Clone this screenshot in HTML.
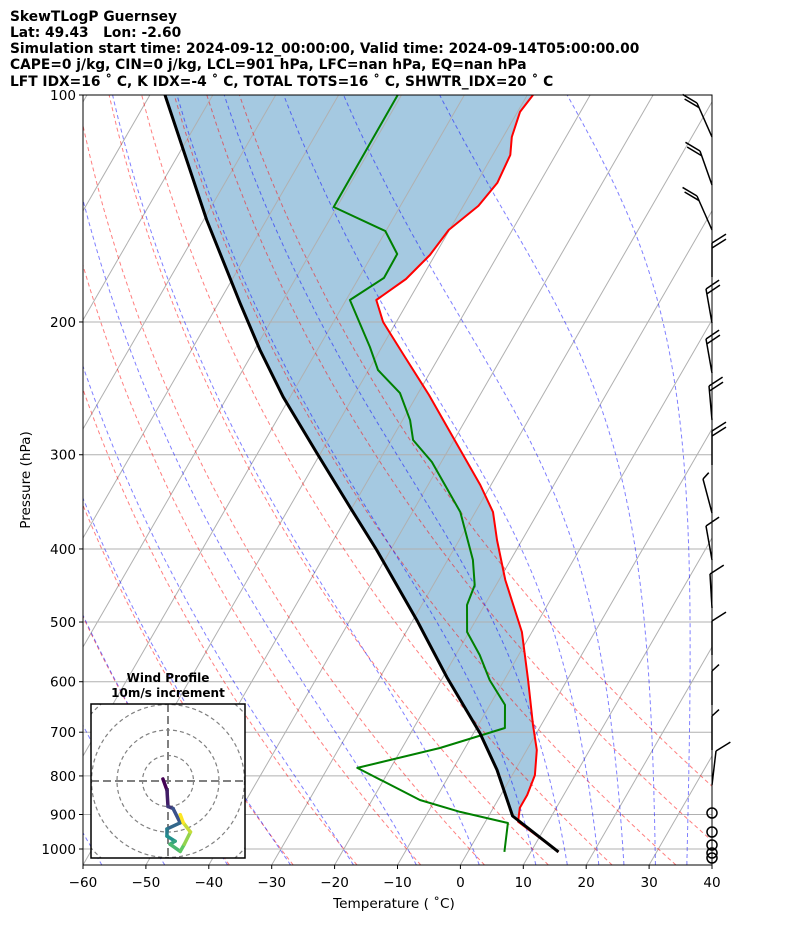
<!DOCTYPE html>
<html><head><meta charset="utf-8"><style>
body{margin:0;background:#fff}
svg{display:block;font-family:"DejaVu Sans","Liberation Sans",sans-serif}
</style></head><body>
<svg id="chart" width="794" height="937" viewBox="0 0 794 937" xmlns="http://www.w3.org/2000/svg">
<g font-weight="bold" font-size="13.8" fill="#000" xml:space="preserve">
<text x="10" y="21">SkewTLogP Guernsey</text>
<text x="10" y="37" xml:space="preserve">Lat: 49.43   Lon: -2.60</text>
<text x="10" y="53">Simulation start time: 2024-09-12_00:00:00, Valid time: 2024-09-14T05:00:00.00</text>
<text x="10" y="69">CAPE=0 j/kg, CIN=0 j/kg, LCL=901 hPa, LFC=nan hPa, EQ=nan hPa</text>
<text x="10" y="86" xml:space="preserve">LFT IDX=16 ˚ C, K IDX=-4 ˚ C, TOTAL TOTS=16 ˚ C, SHWTR_IDX=20 ˚ C</text>
</g>
<defs><clipPath id="pc"><rect x="83" y="95" width="629" height="770"/></clipPath></defs>
<g id="plot" clip-path="url(#pc)"></g>
<g id="axes"></g>
<g id="barbs"></g>
<g id="hodo"></g>
</svg>
<script>
// ---- data ----
const tempP = [1009,920,882,848,798,739,684.7,597,515.5,439.8,389.2,357.3,329,286.8,250,221.2,200,187,175.4,163,151,140.3,130.8,120.1,113.7,105.3,100];
const tempT = [14.4,5.2,4.2,4.2,3.6,1.6,-1.3,-6.2,-11.6,-19.0,-24.0,-27.2,-31.7,-39.9,-48.1,-55.8,-62.1,-65.2,-62.4,-60.8,-60.1,-57.6,-56.7,-57.2,-58.6,-59.6,-59.1];
const dewP = [1009,923.6,893,861,780.7,734.5,691,644,597,553,515.5,474.7,446.7,413.6,357.3,306.7,286.8,270,248.5,231.6,215.9,187,174.8,162.5,151.5,140.8,100];
const dewT = [5.8,3.7,-4.9,-12.4,-25.3,-14.0,-5.5,-7.6,-12.3,-16.2,-20.3,-22.8,-23.4,-26.0,-32.4,-41.5,-46.5,-48.8,-52.9,-58.5,-61.9,-69.4,-66.0,-66.1,-70.1,-80.5,-80.6];
const parcelP = [1009,904,785.5,701.8,591.5,497,401.3,351.9,298.5,251.5,217.9,188.7,146.5,100];
const parcelT = [14.4,3.8,-2.9,-9.0,-19.4,-29.4,-42.2,-50.4,-60.6,-71.1,-79.1,-86.6,-99.5,-117.6];
const dryTheta = [-40,-30,-20,-10,0,10,20,30,40,50];
const moistStart = [-77,-67,-57,-47,-37,-27,-17,-7,3,12,17,22,26,31,36];
const xTicks = [-60,-50,-40,-30,-20,-10,0,10,20,30,40];
const pTicks = [100,200,300,400,500,600,700,800,900,1000];
const barbY = [137,185,230,277,323,373,420,465,513,560,608,655,705,750,785];
const barbDX = [-15,-12,-15,0,-6,-6,-3,0,-9,-6,-2,0,0,0,4];
const barbN = [2,2,2,2,2,2,2,2,0.5,1,1,1,0.5,0.5,1];
const barbSide = [-1,-1,-1,1,1,1,1,1,1,1,1,1,1,1,1];
const calmY = [813,832,845,853,858];
const hodoU = [-2,-0.4,0,2,4.8,-0.4,-0.4,2.8,0.8,4.8,6.4,8.8,6,4.8];
const hodoV = [0.8,-3.6,-10,-10.8,-16.4,-18.8,-21.6,-23.6,-24.8,-27.6,-24.8,-20,-16.4,-13.2];

// ---- axes functions ----
const X0=83,X1=712,Y0=95,Y1=865,PX=6.29,SK=0.577;
function Y(p){return Y0+754*Math.log10(p/100);}
function X(T,p){return X0+(T+60)*PX+(Y1-Y(p))*SK;}
const NS="http://www.w3.org/2000/svg";
function mk(tag,attrs,parent){const e=document.createElementNS(NS,tag);for(const k in attrs)e.setAttribute(k,attrs[k]);parent.appendChild(e);return e;}
const plot=document.getElementById('plot'),axes=document.getElementById('axes');
function pathFrom(P,T){return P.map((p,i)=>(i?'L':'M')+X(T[i],p).toFixed(1)+' '+Y(p).toFixed(1)).join(' ');}

// shading between parcel and temperature
{
  let d='M'+X(parcelT[1],parcelP[1]).toFixed(1)+' '+Y(parcelP[1]).toFixed(1);
  for(let i=2;i<parcelP.length;i++) d+=' L'+X(parcelT[i],parcelP[i]).toFixed(1)+' '+Y(parcelP[i]).toFixed(1);
  for(let i=tempP.length-1;i>=1;i--) d+=' L'+X(tempT[i],tempP[i]).toFixed(1)+' '+Y(tempP[i]).toFixed(1);
  d+=' Z';
  const f=mk('path',{d:d,fill:'rgba(31,119,180,0.4)',stroke:'none'},plot);
  
  
}
// isobars
for(const p of pTicks){const l=mk('line',{x1:X0,x2:X1,y1:Y(p),y2:Y(p),stroke:'#b0b0b0','stroke-width':1},plot);

}
// isotherms
for(let t=-140;t<=40;t+=10){const l=mk('line',{x1:X(t,1050),y1:Y(1050),x2:X(t,100),y2:Y(100),stroke:'#b0b0b0','stroke-width':1},plot);

}
// dry adiabats
for(const th of dryTheta){
  let d='';for(let p=1050;p>=100;p-=10){const T=(th+273.15)*Math.pow(p/1000,0.2857)-273.15;d+=(d?'L':'M')+X(T,p).toFixed(1)+' '+Y(p).toFixed(1);}
  const l=mk('path',{d:d,fill:'none',stroke:'rgba(255,0,0,0.5)','stroke-width':1,'stroke-dasharray':'4,3'},plot);
  
  
}
// moist adiabats
function dTdp(T,p){const Tc=T-273.15;const es=6.112*Math.exp(17.67*Tc/(Tc+243.5));const rs=0.622*es/(p-es);
  return (287.04*T+2.501e6*rs)/(p*(1005.7+2.501e6*2.501e6*rs*0.622/(287.04*T*T)));}
for(const t0 of moistStart){
  let T=t0+273.15;const pts=[];
  for(let p=1050;p>100;p-=2){pts.push([p,T]);T-=dTdp(T,p-1)*2;}
  pts.push([100,T]);
  const d=pts.map((a,i)=>(i?'L':'M')+X(a[1]-273.15,a[0]).toFixed(1)+' '+Y(a[0]).toFixed(1)).join(' ');
  const l=mk('path',{d:d,fill:'none',stroke:'rgba(0,0,255,0.5)','stroke-width':1,'stroke-dasharray':'4,3'},plot);
  
  
}
// profiles
{
  const tl=mk('path',{d:pathFrom(tempP,tempT),fill:'none',stroke:'#ff0000','stroke-width':2,'stroke-linejoin':'round'},plot);
  
  
  const dl=mk('path',{d:pathFrom(dewP,dewT),fill:'none',stroke:'#008000','stroke-width':2,'stroke-linejoin':'round'},plot);
  
  
  const pl=mk('path',{d:pathFrom(parcelP,parcelT),fill:'none',stroke:'#000','stroke-width':3,'stroke-linejoin':'round'},plot);
  
  
}
// frame & ticks
{
  const fr=mk('rect',{x:X0,y:Y0,width:X1-X0,height:Y1-Y0,fill:'none',stroke:'#000','stroke-width':1},axes);
  
  
  for(const p of pTicks){
    mk('line',{x1:X0-4,x2:X0,y1:Y(p),y2:Y(p),stroke:'#000'},axes);
    const t=mk('text',{x:X0-7,y:Y(p)+5,'text-anchor':'end','font-size':13.6},axes);t.textContent=p;
    
    
  }
  for(const v of xTicks){
    const x=X0+(v+60)*PX;
    mk('line',{x1:x,x2:x,y1:Y1,y2:Y1+4,stroke:'#000'},axes);
    const t=mk('text',{x:x,y:Y1+22,'text-anchor':'middle','font-size':13.6},axes);t.textContent=(v<0?'\u2212'+(-v):v);
    
    
  }
  const xt=mk('text',{x:394,y:908,'text-anchor':'middle','font-size':13.6},axes);xt.textContent='Temperature ( \u02daC)';
  
  
  const yt=mk('text',{x:30,y:480,'text-anchor':'middle','font-size':13.6,transform:'rotate(-90 30 480)'},axes);yt.textContent='Pressure (hPa)';
  
  
}
// wind barbs
{
  const g=document.getElementById('barbs');
  barbY.forEach((y,i)=>{
    const tx=X1+barbDX[i], ty=y-34;
    const bg=mk('g',{stroke:'#000','stroke-width':1.5,fill:'none'},g);
    
    
    mk('line',{x1:X1,y1:y,x2:tx,y2:ty},bg);
    const L=Math.hypot(tx-X1,ty-y),ux=(tx-X1)/L,uy=(ty-y)/L;
    const s=barbSide[i];
    const nx= s>0? Math.abs(uy):-Math.abs(uy);
    let n=barbN[i],k=0;
    while(n>0){
      const len=n>=1?14:7;
      const bx=tx-ux*k*5, by=ty-uy*k*5;
      mk('line',{x1:bx,y1:by,x2:bx+nx*len+ux*4,y2:by-len*0.35+uy*4},bg);
      n-=1;k++;
    }
  });
  calmY.forEach(y=>{const c=mk('circle',{cx:X1,cy:y,r:5,fill:'none',stroke:'#000','stroke-width':1.5},g);
    
    });
}
// hodograph
{
  const g=document.getElementById('hodo');
  const cx=168,cy=781,sc=2.55;
  const t1=mk('text',{x:cx,y:682,'text-anchor':'middle','font-size':12,'font-weight':'bold'},g);t1.textContent='Wind Profile';
  
  
  const t2=mk('text',{x:cx,y:697,'text-anchor':'middle','font-size':12,'font-weight':'bold'},g);t2.textContent='10m/s increment';
  
  
  mk('defs',{},g).innerHTML='<clipPath id="hc"><rect x="91" y="704" width="154" height="154"/></clipPath>';
  const ig=mk('g',{'clip-path':'url(#hc)'},g);
  
  
  mk('rect',{x:91,y:704,width:154,height:154,fill:'#fff'},ig);
  for(const r of [10,20,30,40]) mk('circle',{cx:cx,cy:cy,r:r*sc,fill:'none',stroke:'#808080','stroke-dasharray':'4,3','stroke-width':1.2},ig);
  mk('line',{x1:91,x2:245,y1:cy,y2:cy,stroke:'#808080','stroke-width':2,'stroke-dasharray':'8,4'},ig);
  mk('line',{x1:cx,x2:cx,y1:704,y2:858,stroke:'#808080','stroke-width':2,'stroke-dasharray':'8,4'},ig);
  const stops=[[68,1,84],[59,82,139],[33,145,140],[94,201,98],[253,231,37]];
  function vir(f){const s=f*4,i=Math.min(3,Math.floor(s)),r=s-i;const a=stops[i],b=stops[i+1];return 'rgb('+a.map((v,j)=>Math.round(v+(b[j]-v)*r)).join(',')+')';}
  for(let i=0;i<hodoU.length-1;i++){
    const s=mk('line',{x1:cx+hodoU[i]*sc,y1:cy-hodoV[i]*sc,x2:cx+hodoU[i+1]*sc,y2:cy-hodoV[i+1]*sc,stroke:vir(i/(hodoU.length-2)),'stroke-width':3.5,'stroke-linecap':'round'},ig);
    
    
  }
  mk('rect',{x:91,y:704,width:154,height:154,fill:'none',stroke:'#000','stroke-width':1.5},g);
}
</script>
</body></html>
